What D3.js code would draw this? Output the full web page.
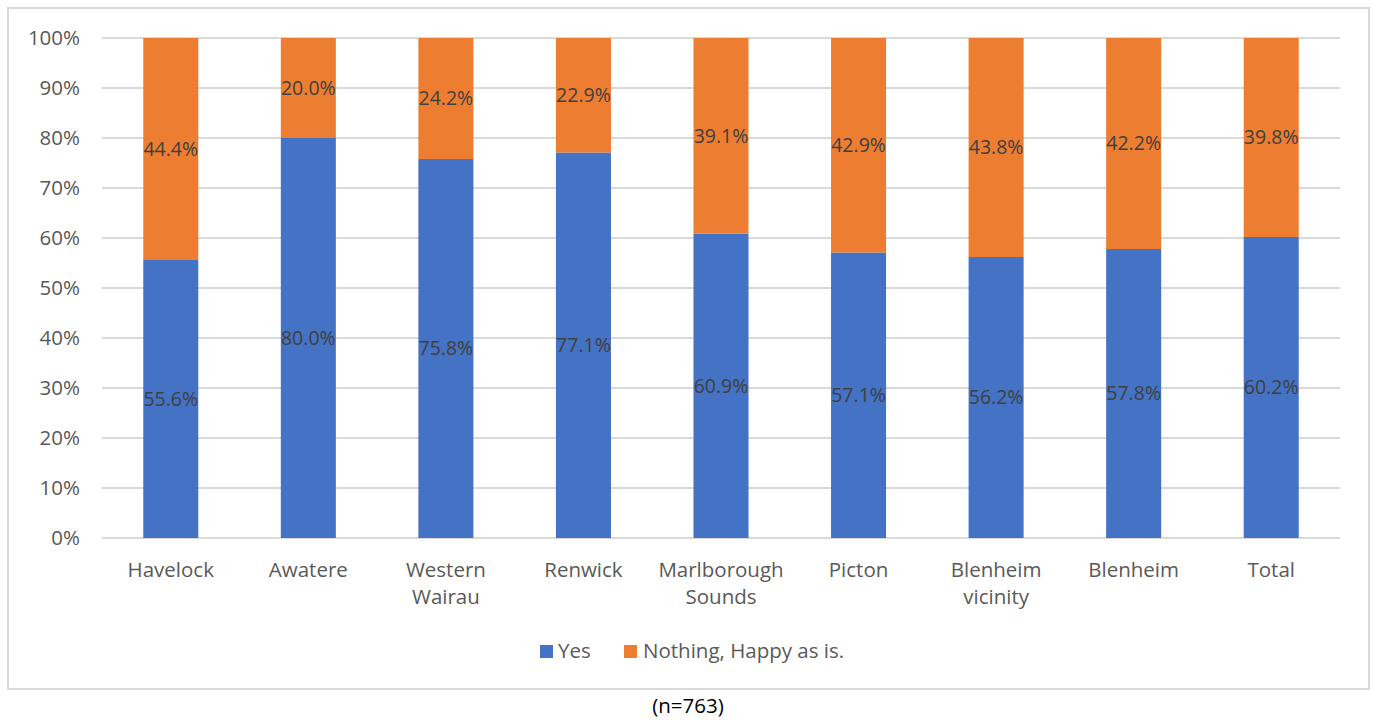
<!DOCTYPE html>
<html><head><meta charset="utf-8">
<script src="https://cdn.jsdelivr.net/npm/d3@7"></script>
<style>body{margin:0;background:#fff;} svg text{font-family:"Open Sans",sans-serif;}</style>
</head><body>
<svg id="c" width="1376" height="722"></svg>
<script>
const categories = [["Havelock"],["Awatere"],["Western","Wairau"],["Renwick"],["Marlborough","Sounds"],["Picton"],["Blenheim","vicinity"],["Blenheim"],["Total"]];
const seriesNames = ["Yes","Nothing, Happy as is."];
const yesValues = [55.6,80.0,75.8,77.1,60.9,57.1,56.2,57.8,60.2];
const nothingValues = [44.4,20.0,24.2,22.9,39.1,42.9,43.8,42.2,39.8];
const yTicks = [0,10,20,30,40,50,60,70,80,90,100];
const colors = ["#4472C4","#ED7D31"];
const FS = "20.5px";
const FSL = "19.5px";

const svg = d3.select("#c");
svg.append("rect").attr("x",8).attr("y",8).attr("width",1361).attr("height",681)
  .attr("fill","#fff").attr("stroke","#d9d9d9").attr("stroke-width",2);

const keys = categories.map((c,i)=>i);
const x = d3.scaleBand().domain(keys).range([102,1340]).paddingInner(0.6).paddingOuter(0.3);
const y = d3.scaleLinear().domain([0,100]).range([538,38]);

svg.append("g").selectAll("line").data(yTicks).join("line")
  .attr("x1",102).attr("x2",1340).attr("y1",d=>y(d)).attr("y2",d=>y(d))
  .attr("stroke","#d9d9d9").attr("stroke-width",2);

const yAxis = d3.axisLeft(y).tickValues(yTicks).tickFormat(d=>d+"%").tickSize(0).tickPadding(0);
const ga = svg.append("g").attr("transform","translate(80,0)").call(yAxis);
ga.select(".domain").remove();
ga.selectAll("text").attr("fill","#595959").style("font-size",FS).style("font-family","'Open Sans',sans-serif");

const data = keys.map(i=>({i, yes:yesValues[i], no:nothingValues[i]}));
const stack = d3.stack().keys(["yes","no"])(data);

const g = svg.append("g");
stack.forEach((s,si)=>{
  g.append("g").selectAll("rect").data(s).join("rect")
    .attr("x",d=>x(d.data.i)).attr("width",x.bandwidth())
    .attr("y",d=>y(d[1])).attr("height",d=>y(d[0])-y(d[1]))
    .attr("fill",colors[si]);
  g.append("g").selectAll("text").data(s).join("text")
    .attr("x",d=>x(d.data.i)+x.bandwidth()/2)
    .attr("y",d=>y((d[0]+d[1])/2))
    .attr("dy","0.35em").attr("text-anchor","middle")
    .attr("fill","#404040").style("font-size",FSL)
    .text(d=>(d[1]-d[0]).toFixed(1)+"%");
});

const xl = svg.append("g").selectAll("text").data(keys).join("text")
  .attr("x",d=>x(d)+x.bandwidth()/2).attr("y",577)
  .attr("text-anchor","middle").attr("fill","#595959").style("font-size",FS);
xl.each(function(d){
  const t=d3.select(this);
  categories[d].forEach((w,k)=>t.append("tspan").attr("x",x(d)+x.bandwidth()/2).attr("dy",k?27:0).text(w));
});

const leg = [{x:540,tx:558},{x:624,tx:643}];
seriesNames.forEach((n,i)=>{
  svg.append("rect").attr("x",leg[i].x).attr("y",645).attr("width",13).attr("height",13).attr("fill",colors[i]);
  svg.append("text").attr("x",leg[i].tx).attr("y",658).attr("fill","#595959").style("font-size",FS).text(n);
});

svg.append("text").attr("x",688).attr("y",713).attr("text-anchor","middle").attr("fill","#000").style("font-size",FS).text("(n=763)");
</script>
</body></html>
